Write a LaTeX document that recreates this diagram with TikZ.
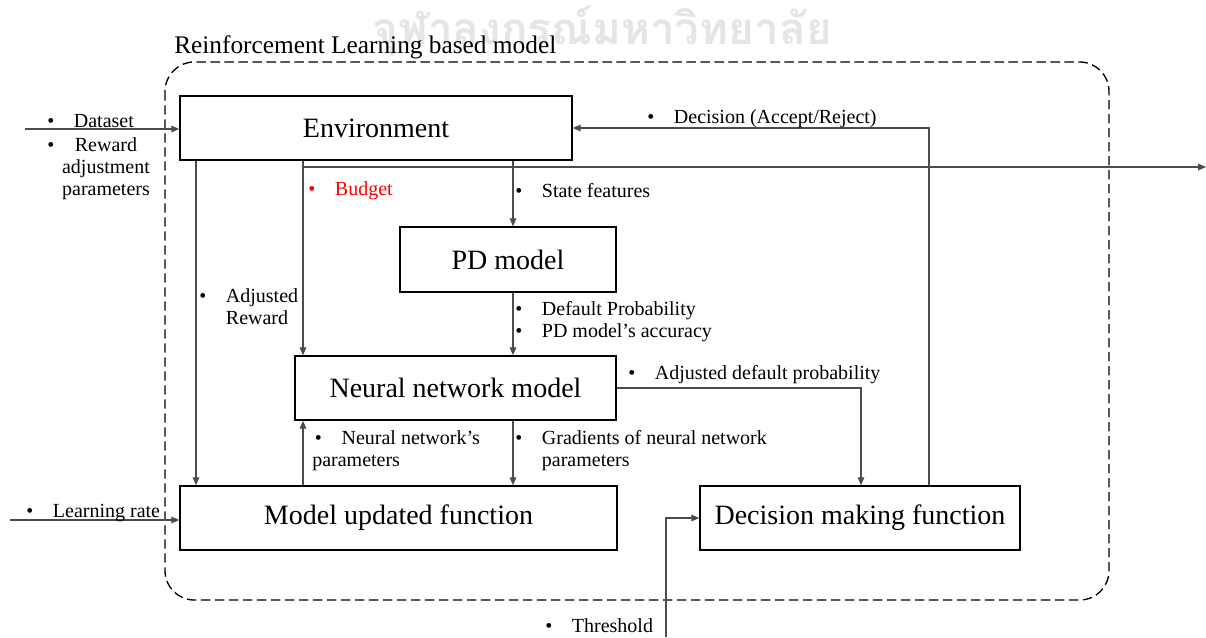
\documentclass[tikz,border=0pt]{standalone}
\usepackage{fontspec}
\setmainfont{Liberation Serif}
\newfontfamily\thaifont[Script=Thai]{Loma}
\usetikzlibrary{arrows.meta,calc}
\newcommand\bul{\makebox[20pt][l]{•}}
\begin{document}
\begin{tikzpicture}[x=0.75pt,y=-0.75pt,
  box/.style={draw=black,line width=1.1pt,inner sep=0pt,minimum height=48pt,font=\fontsize{21}{24}\selectfont},
  conn/.style={draw=black!70,line width=0.8pt,-{Triangle[length=6pt,width=5pt]}},
  lbl/.style={font=\fontsize{15}{16.5}\selectfont,inner sep=0pt,anchor=west,align=left,yshift=-1.5pt},
  frame/.style={draw=black,line width=1pt,dash pattern=on 7pt off 3.5pt,rounded corners=22pt}]
\useasboundingbox (0,0) rectangle (1206,637);
\fill[white] (0,0) rectangle (1206,637);
% watermark
\node[text=black!10,inner sep=0pt,font=\thaifont\bfseries\fontsize{33}{33}\selectfont] (wm) at (602,31) {จุฬาลงกรณ์มหาวิทยาลัย};
% frame
\draw[frame] (165,62) rectangle (1109,600);
\node[anchor=base west,inner sep=0pt,font=\fontsize{19}{22}\selectfont] (title) at (174,53) {Reinforcement Learning based model};
% boxes
\node[box,minimum width=294pt] (env) at (376,128) {Environment};
\node[box,minimum width=162pt,minimum height=48.75pt] (pd) at (508,259.5) {PD model};
\node[box,minimum width=240.75pt] (nn) at (455.5,388) {Neural network model};
\node[box,minimum width=327.75pt] (mu) at (398.5,518) {Model updated function};
\node[box,minimum width=240pt] (dm) at (860,518) {Decision making function};
% helper coordinates
\coordinate (ax) at (196,0);
\coordinate (bx) at (303,0);
\coordinate (sx) at (513,0);
\coordinate (dx) at (861,0);
\coordinate (ex) at (929,0);
\coordinate (in1) at (25,129);
\coordinate (lr) at (10,520);
\coordinate (th) at (666,637);
\coordinate (outend) at (1206,167);
% connectors
\draw[conn] (in1) -- (in1 -| env.west);
\draw[conn] (env.south -| bx) |- (outend);
\draw[conn] (env.south -| bx) -- (nn.north -| bx);
\draw[conn] (env.south -| sx) -- (pd.north -| sx);
\draw[conn] (env.south -| ax) -- (mu.north -| ax);
\draw[conn] (pd.south -| sx) -- (nn.north -| sx);
\draw[conn] (nn.east) -| (dm.north -| dx);
\draw[conn] (nn.south -| sx) -- (mu.north -| sx);
\draw[conn] (mu.north -| bx) -- (nn.south -| bx);
\draw[conn] (lr) -- (lr -| mu.west);
\draw[conn] (th) |- (dm.west);
\draw[conn] (dm.north -| ex) |- (env.east);
% labels
\node[lbl] (l1) at (47,119) {\bul Dataset};
\node[lbl] (l2) at (47,145) {•};
\node[lbl,anchor=center,align=center] (l3) at (106,167) {Reward\\adjustment\\parameters};
\node[lbl,text=red] (l4) at (308,189) {\bul Budget};
\node[lbl] (l5) at (515,189) {\bul State features};
\node[lbl] (l6) at (199,305) {\bul Adjusted\\\hspace*{20pt}Reward};
\node[lbl] (l7) at (515,320) {\bul Default Probability\\\bul PD model’s accuracy};
\node[lbl] (l8) at (628,373) {\bul Adjusted default probability};
\node[lbl] (l9) at (312,449) {\makebox[22pt][l]{\hspace*{2pt}•}Neural network’s\\parameters};
\node[lbl] (l10) at (515,449) {\bul Gradients of neural network\\\hspace*{20pt}parameters};
\node[lbl] (l11) at (26,511) {\bul Learning rate};
\node[lbl] (l12) at (545,624) {\bul Threshold};
\node[lbl] (l13) at (647,117) {\bul Decision (Accept/Reject)};
\end{tikzpicture}
\end{document}
